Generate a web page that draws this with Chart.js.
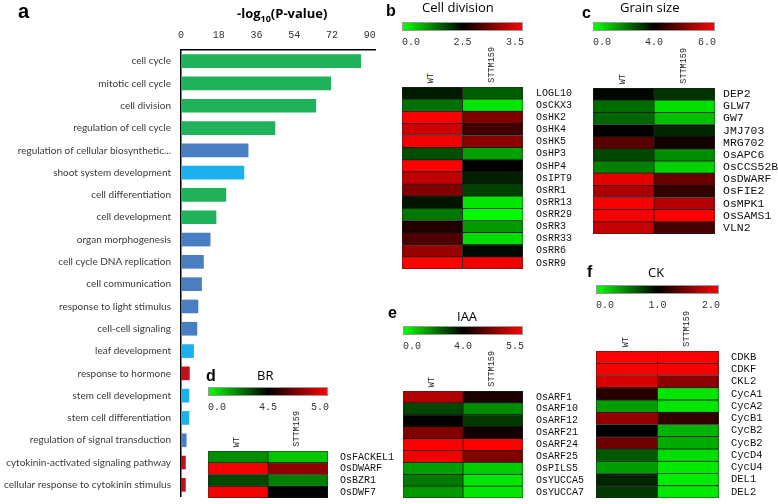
<!DOCTYPE html>
<html>
<head>
<meta charset="utf-8">
<script src="https://cdn.jsdelivr.net/npm/chart.js@4.4.0/dist/chart.umd.min.js"></script>
<style>
  body { margin: 0; background: #fff; }
  #wrap { position: relative; width: 778px; height: 504px; overflow: hidden; font-family: Arial, 'Liberation Sans', sans-serif; }
  canvas { position: absolute; }
  .letter { position: absolute; font-weight: bold; color: #000; line-height: 1; }
  .ptitle { position: absolute; font-family: 'Open Sans', sans-serif; font-size: 13px; color: #000; line-height: 1; white-space: nowrap; }
  .cbar { position: absolute; height: 8px; border: 1px solid #999; box-sizing: border-box;
          background: linear-gradient(to right, #00ff00, #000 50%, #ff0000); }
  .cblab { position: absolute; font-family: 'Liberation Mono', monospace; font-size: 10px; color: #333; line-height: 1; }
  .collab { position: absolute; font-family: 'Liberation Mono', monospace; font-size: 8.5px; color: #222;
            writing-mode: vertical-rl; transform: rotate(180deg); line-height: 1; white-space: nowrap; }
</style>
</head>
<body>
<div id="wrap">
  <canvas id="chartA" width="390" height="504" style="left:0;top:0"></canvas>
  <div class="letter" style="left:18px;top:1px;font-size:20px">a</div>
  <div style="position:absolute;left:237px;top:4px;font-weight:bold;font-size:13px;font-family:'Open Sans',sans-serif;white-space:nowrap">-log<sub style="font-size:9px">10</sub>(P-value)</div>
</div>

<script>
// Panel a: GO enrichment
const goTerms = [
  'cell cycle', 'mitotic cell cycle', 'cell division', 'regulation of cell cycle',
  'regulation of cellular biosynthetic...', 'shoot system development', 'cell differentiation',
  'cell development', 'organ morphogenesis', 'cell cycle DNA replication', 'cell communication',
  'response to light stimulus', 'cell-cell signaling', 'leaf development', 'response to hormone',
  'stem cell development', 'stem cell differentiation', 'regulation of signal transduction',
  'cytokinin-activated signaling pathway', 'cellular response to cytokinin stimulus'
];
const goValues = [85.7, 71.4, 64.3, 44.8, 32.0, 30.0, 21.4, 16.7, 13.9, 10.7, 9.8, 8.1, 7.6, 6.0, 4.0, 3.8, 3.8, 2.5, 2.1, 2.1];
const goGroups = ['g', 'g', 'g', 'g', 'b', 'lb', 'g', 'g', 'b', 'b', 'b', 'b', 'b', 'lb', 'r', 'lb', 'lb', 'b', 'r', 'r'];
const goTicks = [0, 18, 36, 54, 72, 90];

// Heatmap panels (WT / STTM159 expression)
const cols = ['WT', 'STTM159'];

const divGenes = ['LOGL10', 'OsCKX3', 'OsHK2', 'OsHK4', 'OsHK5', 'OsHP3', 'OsHP4', 'OsIPT9', 'OsRR1', 'OsRR13', 'OsRR29', 'OsRR3', 'OsRR33', 'OsRR6', 'OsRR9'];
const divWT = [2.25, 1.4, 3.5, 3.3, 3.45, 1.75, 3.5, 3.25, 3.0, 2.3, 1.33, 2.62, 2.8, 3.1, 3.5];
const divSTTM = [1.6, 0.25, 3.0, 2.75, 3.05, 0.93, 2.5, 2.2, 1.87, 0.25, 0.05, 1.0, 0.35, 2.4, 3.45];
const divScale = [0.0, 2.5, 3.5];

const grainGenes = ['DEP2', 'GLW7', 'GW7', 'JMJ703', 'MRG702', 'OsAPC6', 'OsCCS52B', 'OsDWARF', 'OsFIE2', 'OsMPK1', 'OsSAMS1', 'VLN2'];
const grainWT = [3.9, 2.3, 2.4, 4.0, 4.7, 2.9, 2.0, 5.8, 5.35, 5.95, 5.95, 5.55];
const grainSTTM = [3.2, 0.5, 1.0, 3.4, 4.15, 1.8, 0.7, 4.8, 4.4, 5.4, 6.0, 4.55];
const grainScale = [0.0, 4.0, 6.0];

const brGenes = ['OsFACKEL1', 'OsDWARF', 'OsBZR1', 'OsDWF7'];
const brWT = [2.0, 4.98, 3.25, 4.98];
const brSTTM = [1.0, 4.78, 2.25, 4.5];
const brScale = [0.0, 4.5, 5.0];

const iaaGenes = ['OsARF1', 'OsARF10', 'OsARF12', 'OsARF21', 'OsARF24', 'OsARF25', 'OsPILS5', 'OsYUCCA5', 'OsYUCCA7'];
const iaaWT = [5.05, 2.9, 4.0, 4.75, 5.5, 5.42, 1.5, 2.1, 1.6];
const iaaSTTM = [4.15, 1.8, 3.1, 4.1, 5.5, 4.75, 0.8, 0.4, 0.4];
const iaaScale = [0.0, 4.0, 5.5];

const ckGenes = ['CDKB', 'CDKF', 'CKL2', 'CycA1', 'CycA2', 'CycB1', 'CycB2', 'CycB2', 'CycD4', 'CycU4', 'DEL1', 'DEL2'];
const ckWT = [2.0, 1.97, 1.85, 1.15, 0.38, 1.58, 1.0, 1.43, 0.65, 0.38, 0.86, 0.78];
const ckSTTM = [2.0, 1.97, 1.55, 0.1, 0.1, 1.2, 0.3, 0.33, 0.13, 0.08, 0.08, 0.08];
const ckScale = [0.0, 1.0, 2.0];

const groupColors = { g: '#1fb25a', b: '#4a7ec2', lb: '#1cb0ee', r: '#c20f1c' };
const monoFont = "'Liberation Mono', 'DejaVu Sans Mono', monospace";
const wrap = document.getElementById('wrap');

// green -> black -> red
function heatColor(v, scale) {
    const [lo, mid, hi] = scale;
    if (v <= mid) {
        const t = Math.min(1, (mid - v) / (mid - lo));
        return `rgb(0, ${Math.round(255 * t)}, 0)`;
    }
    const t = Math.min(1, (v - mid) / (hi - mid));
    return `rgb(${Math.round(255 * t)}, 0, 0)`;
}

// drop the extra room chart.js keeps for tick padding at the axis ends
function noEndPadding(s) {
    s.paddingTop = 0;
    s.paddingBottom = 0;
    s.paddingLeft = 0;
    s.paddingRight = 0;
}

function addDiv(cls, style, text) {
    const d = document.createElement('div');
    d.className = cls;
    Object.assign(d.style, style);
    d.textContent = text;
    wrap.appendChild(d);
    return d;
}

// Panel a chart
new Chart(document.getElementById('chartA'), {
    type: 'bar',
    data: {
        labels: goTerms,
        datasets: [{
            data: goValues,
            backgroundColor: goGroups.map(g => groupColors[g]),
            barThickness: 13
        }]
    },
    options: {
        indexAxis: 'y',
        responsive: false,
        animation: false,
        layout: { padding: { top: 0, right: 15, bottom: 8, left: 0 } },
        plugins: { legend: { display: false }, tooltip: { enabled: false } },
        scales: {
            x: {
                position: 'top',
                min: 0,
                max: 92.5,
                afterBuildTicks: s => { s.ticks = goTicks.map(v => ({ value: v })); },
                afterFit: s => { s.height = 50; noEndPadding(s); },
                grid: { display: false, drawTicks: false },
                border: { color: '#000', width: 1.5 },
                ticks: { padding: 9, color: '#333', font: { family: monoFont, size: 10 } }
            },
            y: {
                afterFit: s => { s.width = 181; noEndPadding(s); },
                grid: { display: false, drawTicks: false },
                border: { color: '#000', width: 1.5 },
                ticks: { padding: 10, autoSkip: false, color: '#3a3a3a',
                    font: { family: "Lato, sans-serif", size: 10 } }
            }
        }
    }
});

// Heatmap panel: letter, title, colour bar, column labels, cells
function makeHeatmap(p) {
    const cellW = p.right - p.left;
    const cellH = p.bottom - p.top;
    const colW = cellW / 2;

    addDiv('letter', { left: p.letterX + 'px', top: p.letterY + 'px', fontSize: '16px' }, p.letter);
    addDiv('ptitle', { left: p.titleX + 'px', top: p.titleY + 'px' }, p.title);

    addDiv('cbar', { left: p.left + 'px', top: p.barY + 'px', width: cellW + 'px', height: '9px' }, '');
    const ly = p.barY + 16;
    addDiv('cblab', { left: p.left + 'px', top: ly + 'px' }, p.scale[0].toFixed(1));
    addDiv('cblab', { left: (p.left + colW) + 'px', top: ly + 'px', transform: 'translateX(-50%)' }, p.scale[1].toFixed(1));
    addDiv('cblab', { left: (p.right - 17) + 'px', top: ly + 'px' }, p.scale[2].toFixed(1));

    cols.forEach((c, i) => {
        const d = addDiv('collab', { left: (p.left + colW * i + colW / 2 - 5) + 'px', top: '0px' }, c);
        d.style.top = (p.top - 4 - d.offsetHeight) + 'px';
    });

    const cv = document.createElement('canvas');
    cv.width = cellW + p.labelW;
    cv.height = cellH;
    cv.style.left = p.left + 'px';
    cv.style.top = p.top + 'px';
    wrap.appendChild(cv);

    const cellStyle = { borderColor: 'rgba(0,0,0,0.85)', borderWidth: 0.75, borderSkipped: false,
        barPercentage: 1, categoryPercentage: 1 };

    new Chart(cv, {
        type: 'bar',
        data: {
            labels: p.genes,
            datasets: [
                Object.assign({ label: cols[0], data: p.genes.map(() => 1), backgroundColor: p.wt.map(v => heatColor(v, p.scale)) }, cellStyle),
                Object.assign({ label: cols[1], data: p.genes.map(() => 1), backgroundColor: p.sttm.map(v => heatColor(v, p.scale)) }, cellStyle)
            ]
        },
        options: {
            indexAxis: 'y',
            responsive: false,
            animation: false,
            layout: { padding: 0 },
            plugins: { legend: { display: false }, tooltip: { enabled: false } },
            scales: {
                x: { stacked: true, display: false, min: 0, max: 2 },
                y: {
                    stacked: true,
                    position: 'right',
                    afterFit: s => { s.width = p.labelW; noEndPadding(s); },
                    grid: { display: false, drawTicks: false },
                    border: { display: false },
                    ticks: { padding: p.pad, autoSkip: false, color: '#111', font: { family: monoFont, size: p.fontSize } }
                }
            }
        }
    });
}

makeHeatmap({ letter: 'b', letterX: 386, letterY: 3, title: 'Cell division', titleX: 422, titleY: 1,
    left: 402, right: 523, top: 87, bottom: 269, barY: 22, labelW: 80, pad: 13, fontSize: 10,
    genes: divGenes, wt: divWT, sttm: divSTTM, scale: divScale });

makeHeatmap({ letter: 'c', letterX: 582, letterY: 5, title: 'Grain size', titleX: 620, titleY: 1,
    left: 593, right: 715, top: 88, bottom: 234, barY: 22, labelW: 63, pad: 8, fontSize: 11.5,
    genes: grainGenes, wt: grainWT, sttm: grainSTTM, scale: grainScale });

makeHeatmap({ letter: 'd', letterX: 206, letterY: 368, title: 'BR', titleX: 257, titleY: 369,
    left: 208, right: 328, top: 451, bottom: 498, barY: 387, labelW: 72, pad: 12, fontSize: 10,
    genes: brGenes, wt: brWT, sttm: brSTTM, scale: brScale });

makeHeatmap({ letter: 'e', letterX: 388, letterY: 305, title: 'IAA', titleX: 457, titleY: 310,
    left: 403, right: 523, top: 391, bottom: 498, barY: 326, labelW: 75, pad: 13, fontSize: 10,
    genes: iaaGenes, wt: iaaWT, sttm: iaaSTTM, scale: iaaScale });

makeHeatmap({ letter: 'f', letterX: 587, letterY: 264, title: 'CK', titleX: 648, titleY: 266,
    left: 596, right: 719, top: 351, bottom: 498, barY: 285, labelW: 55, pad: 12, fontSize: 10.5,
    genes: ckGenes, wt: ckWT, sttm: ckSTTM, scale: ckScale });
</script>
</body>
</html>
